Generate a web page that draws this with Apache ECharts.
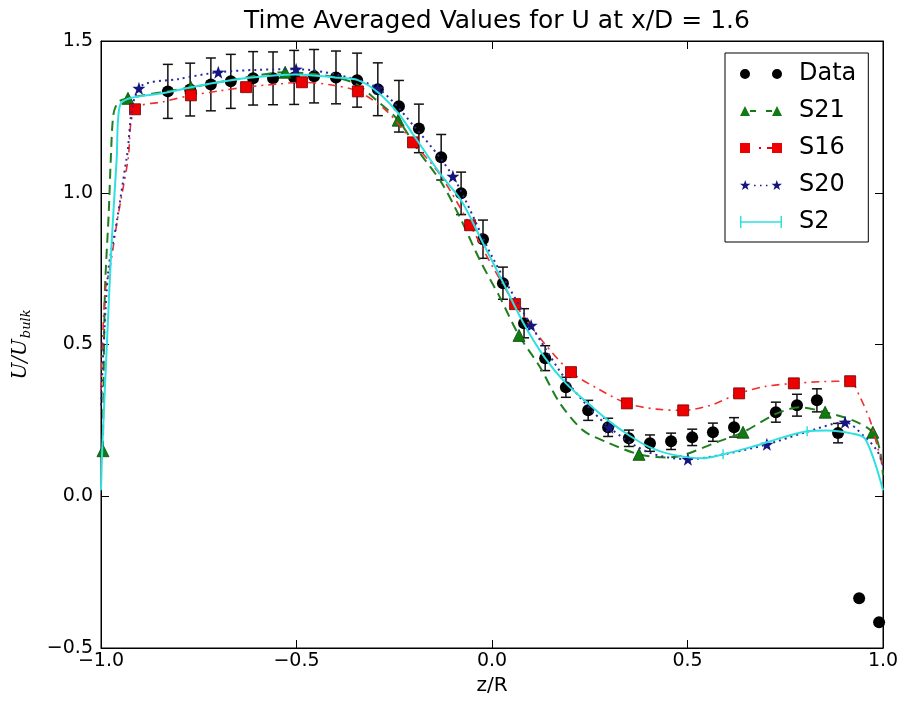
<!DOCTYPE html>
<html>
<head>
<meta charset="utf-8">
<script src="https://cdn.jsdelivr.net/npm/echarts@6/dist/echarts.min.js"></script>
<style>
  html, body { margin: 0; padding: 0; background: #fff; }
  #chart { width: 902px; height: 702px; }
</style>
</head>
<body>
<div id="chart"></div>
<script>
// measured data with error bars
const dataX = [-0.829, -0.772, -0.719, -0.668, -0.611, -0.560, -0.506, -0.455, -0.399, -0.345, -0.292, -0.238,
  -0.187, -0.130, -0.079, -0.023, 0.028, 0.082, 0.136, 0.189, 0.246, 0.297, 0.350, 0.404, 0.458, 0.512,
  0.565, 0.619, 0.726, 0.780, 0.831, 0.885, 0.939, 0.990];
const dataY = [1.334, 1.340, 1.357, 1.367, 1.377, 1.377, 1.380, 1.384, 1.380, 1.371, 1.341, 1.285,
  1.212, 1.117, 0.998, 0.847, 0.702, 0.570, 0.455, 0.359, 0.283, 0.227, 0.191, 0.175, 0.181, 0.194,
  0.211, 0.227, 0.277, 0.300, 0.316, 0.208, -0.336, -0.415];
const dataErr = [0.089, 0.087, 0.087, 0.089, 0.088, 0.087, 0.089, 0.088, 0.087, 0.089, 0.087, 0.085,
  0.080, 0.075, 0.070, 0.063, 0.053, 0.048, 0.041, 0.033, 0.033, 0.030, 0.027, 0.027, 0.027, 0.027,
  0.030, 0.032, 0.033, 0.036, 0.038, 0.032, 0, 0];

// S21 - green dashed, triangles
const s21X = [-0.995, -0.99, -0.98, -0.975, -0.968, -0.955, -0.931, -0.85, -0.77, -0.65, -0.529, -0.42, -0.35,
  -0.30, -0.24, -0.184, -0.130, -0.082, -0.031, 0.020, 0.069, 0.123, 0.174, 0.233, 0.294, 0.376, 0.448,
  0.488, 0.575, 0.642, 0.729, 0.788, 0.852, 0.923, 0.974, 0.992, 1.0];
const s21Y = [0.15, 0.67, 0.94, 1.11, 1.26, 1.30, 1.311, 1.33, 1.347, 1.375, 1.397, 1.385, 1.36,
  1.31, 1.239, 1.13, 1.035, 0.919, 0.778, 0.656, 0.53, 0.425, 0.306, 0.217, 0.178, 0.138, 0.128,
  0.135, 0.178, 0.211, 0.273, 0.293, 0.277, 0.25, 0.211, 0.152, 0.07];
const s21Marks = [0, 6, 8, 10, 14, 20, 25, 29, 32, 34];

// S16 - red dash-dot, squares
const s16X = [-1.0, -0.99, -0.977, -0.957, -0.931, -0.913, -0.84, -0.77, -0.70, -0.629, -0.55, -0.486, -0.41,
  -0.343, -0.27, -0.202, -0.133, -0.056, 0.0, 0.059, 0.13, 0.202, 0.27, 0.345, 0.42, 0.489, 0.56,
  0.632, 0.70, 0.772, 0.85, 0.916, 0.94, 0.967, 0.987, 1.0];
const s16Y = [0.35, 0.669, 0.754, 0.919, 1.107, 1.275, 1.30, 1.321, 1.335, 1.348, 1.358, 1.364, 1.355,
  1.334, 1.27, 1.166, 1.06, 0.893, 0.76, 0.633, 0.51, 0.409, 0.355, 0.306, 0.287, 0.283, 0.30,
  0.339, 0.362, 0.372, 0.378, 0.379, 0.33, 0.25, 0.158, 0.1];
const s16Marks = [5, 7, 9, 11, 13, 15, 17, 19, 21, 23, 25, 27, 29, 31];

// S20 - navy dotted, stars
const s20X = [-1.0, -0.982, -0.959, -0.934, -0.903, -0.8, -0.70, -0.6, -0.501, -0.4, -0.292, -0.2, -0.1,
  0.0, 0.1, 0.2, 0.3, 0.4, 0.501, 0.6, 0.703, 0.8, 0.903, 0.949, 0.985, 1.0];
const s20Y = [0.3, 0.735, 0.909, 1.117, 1.344, 1.375, 1.397, 1.405, 1.407, 1.39, 1.344, 1.22, 1.054,
  0.79, 0.563, 0.365, 0.227, 0.145, 0.122, 0.14, 0.171, 0.21, 0.244, 0.201, 0.15, 0.1];
const s20Marks = [4, 6, 8, 10, 12, 14, 16, 18, 20, 22];

// S2 - cyan solid, tick marks
const s2X = [-1.0, -0.997, -0.985, -0.973, -0.96, -0.951, -0.829, -0.716, -0.614, -0.504, -0.402, -0.343,
  -0.292, -0.240, -0.197, -0.130, -0.079, -0.023, 0.028, 0.082, 0.136, 0.189, 0.246, 0.297, 0.350,
  0.404, 0.458, 0.540, 0.591, 0.660, 0.744, 0.806, 0.857, 0.916, 0.954, 1.0];
const s2Y = [0.02, 0.15, 0.5, 0.83, 1.11, 1.29, 1.331, 1.361, 1.38, 1.39, 1.38, 1.371,
  1.331, 1.262, 1.183, 1.058, 0.975, 0.834, 0.705, 0.567, 0.455, 0.372, 0.306, 0.25, 0.201,
  0.161, 0.138, 0.125, 0.138, 0.161, 0.194, 0.214, 0.217, 0.208, 0.19, 0.02];
const s2Marks = [28, 31];

const xTicks = [-1.0, -0.5, 0.0, 0.5, 1.0];
const yTicks = [-0.5, 0.0, 0.5, 1.0, 1.5];

const FONT = 'DejaVu Sans';
const STAR = 'path://M5,0.5L6.3,4.3L10.3,4.4L7.1,6.8L8.3,10.7L5,8.4L1.7,10.7L2.9,6.8L-0.3,4.4L3.7,4.3z';
const fmt = v => v.toFixed(1).replace('-', '\u2212');

function lineData(xs, ys, marks, sym) {
  return xs.map((x, i) => ({ value: [x, ys[i]], symbol: marks.includes(i) ? sym : 'none' }));
}

const chart = echarts.init(document.getElementById('chart'));

const baseAxis = {
  type: 'value',
  splitLine: { show: false },
  axisLine: { show: true, onZero: false, lineStyle: { color: '#000', width: 1 } },
  axisTick: { show: true, inside: true, length: 8, lineStyle: { color: '#000', width: 1 } },
};

chart.setOption({
  animation: false,
  backgroundColor: '#fff',
  title: {
    text: 'Time Averaged Values for U at x/D = 1.6',
    left: 492,
    top: 4,
    textAlign: 'center',
    textStyle: { fontFamily: FONT, fontSize: 25, fontWeight: 'normal', color: '#000' },
  },
  grid: { left: 101, right: 19, top: 41, bottom: 54, show: true, borderColor: '#000', borderWidth: 1 },
  legend: {
    orient: 'vertical',
    left: 725,
    top: 53,
    padding: [9, 12, 8, 15],
    itemGap: 13,
    itemWidth: 42,
    itemHeight: 12,
    backgroundColor: '#fff',
    borderColor: '#000',
    borderWidth: 1,
    borderRadius: 0,
    itemStyle: { borderWidth: 0, opacity: 1 },
    textStyle: { fontFamily: FONT, fontSize: 24, color: '#000', padding: [0, 0, 0, 12] },
    data: [
      { name: 'Data', icon: 'path://M0,6a5,5 0 1,0 10,0a5,5 0 1,0 -10,0zM32,6a5,5 0 1,0 10,0a5,5 0 1,0 -10,0z' },
      { name: 'S21', icon: 'path://M0,11L5,1L10,11zM10,5h6v2h-6zM26,5h6v2h-6zM32,11L37,1L42,11z' },
      { name: 'S16', icon: 'path://M0,1h10v10h-10zM19,5h2v2h-2zM27,5h5v2h-5zM32,1h10v10h-10z' },
      { name: 'S20', icon: 'path://M5,0.5L6.3,4.3L10.3,4.4L7.1,6.8L8.3,10.7L5,8.4L1.7,10.7L2.9,6.8L-0.3,4.4L3.7,4.3zM14,5.3h1.5v1.5h-1.5zM20,5.3h1.5v1.5h-1.5zM26,5.3h1.5v1.5h-1.5zM37,0.5L38.3,4.3L42.3,4.4L39.1,6.8L40.3,10.7L37,8.4L33.7,10.7L34.9,6.8L31.7,4.4L35.7,4.3z' },
      { name: 'S2', icon: 'path://M0,0h1.5v12h-1.5zM1.5,5.2h39v1.6h-39zM40.5,0h1.5v12h-1.5z' },
    ],
  },
  xAxis: [
    Object.assign({}, baseAxis, {
      min: -1, max: 1, interval: 0.5, position: 'bottom',
      name: 'z/R', nameLocation: 'middle', nameGap: 21,
      nameTextStyle: { fontFamily: FONT, fontSize: 20, color: '#000', verticalAlign: 'top' },
      axisLabel: { fontFamily: FONT, fontSize: 19, color: '#000', margin: 4, formatter: fmt },
    }),
    Object.assign({}, baseAxis, {
      min: -1, max: 1, interval: 0.5, position: 'top', axisLabel: { show: false },
    }),
  ],
  yAxis: [
    Object.assign({}, baseAxis, {
      min: -0.5, max: 1.5, interval: 0.5, position: 'left',
      name: '{a|U/U}{b|bulk}', nameLocation: 'middle', nameGap: 68, nameRotate: 90,
      nameTextStyle: {
        rich: {
          a: { fontFamily: 'DejaVu Serif', fontStyle: 'italic', fontSize: 20, color: '#000' },
          b: { fontFamily: 'DejaVu Serif', fontStyle: 'italic', fontSize: 13, color: '#000', padding: [12, 0, 0, 1] },
        },
      },
      axisLabel: { fontFamily: FONT, fontSize: 19, color: '#000', margin: 8, formatter: fmt },
    }),
    Object.assign({}, baseAxis, {
      min: -0.5, max: 1.5, interval: 0.5, position: 'right', axisLabel: { show: false },
    }),
  ],
  series: [
    {
      name: 'Data',
      type: 'scatter',
      symbol: 'circle',
      symbolSize: 12,
      itemStyle: { color: '#000', opacity: 1 },
      data: dataX.map((x, i) => [x, dataY[i]]),
      z: 2,
    },
    {
      name: 'err',
      type: 'custom',
      data: dataX.map((x, i) => [x, dataY[i], dataErr[i]]),
      encode: { x: 0, y: 1 },
      z: 2,
      renderItem: function (params, api) {
        const x = api.value(0), y = api.value(1), e = api.value(2);
        if (!e) return null;
        const top = api.coord([x, y + e]);
        const bot = api.coord([x, y - e]);
        const st = { stroke: '#111', lineWidth: 1.5 };
        return {
          type: 'group',
          children: [
            { type: 'line', shape: { x1: top[0], y1: top[1], x2: bot[0], y2: bot[1] }, style: st },
            { type: 'line', shape: { x1: top[0] - 5, y1: top[1], x2: top[0] + 5, y2: top[1] }, style: st },
            { type: 'line', shape: { x1: bot[0] - 5, y1: bot[1], x2: bot[0] + 5, y2: bot[1] }, style: st },
          ],
        };
      },
    },
    {
      name: 'S21',
      type: 'line',
      smooth: 0.3,
      symbol: 'triangle',
      symbolSize: 12,
      itemStyle: { color: '#117a11', borderColor: '#0a4a0a', borderWidth: 0.8 },
      lineStyle: { color: '#1f7f1f', width: 2, type: [10, 6] },
      data: lineData(s21X, s21Y, s21Marks, 'triangle'),
      z: 3,
    },
    {
      name: 'S16',
      type: 'line',
      smooth: 0.3,
      symbol: 'rect',
      symbolSize: 11,
      itemStyle: { color: '#ee0000', borderColor: '#700000', borderWidth: 0.8 },
      lineStyle: { color: '#f03030', width: 1.6, type: [8, 5, 2, 5] },
      data: lineData(s16X, s16Y, s16Marks, 'rect'),
      z: 4,
    },
    {
      name: 'S20',
      type: 'line',
      smooth: 0.3,
      symbol: STAR,
      symbolSize: 13,
      itemStyle: { color: '#15157f' },
      lineStyle: { color: '#2a2aa0', width: 2, type: [2, 4] },
      data: lineData(s20X, s20Y, s20Marks, STAR),
      z: 5,
    },
    {
      name: 'S2',
      type: 'line',
      smooth: 0.3,
      symbol: 'rect',
      symbolSize: [1.5, 10],
      itemStyle: { color: '#30e0e0' },
      lineStyle: { color: '#30e0e0', width: 2 },
      data: lineData(s2X, s2Y, s2Marks, 'rect'),
      z: 6,
    },
  ],
});
</script>
</body>
</html>
